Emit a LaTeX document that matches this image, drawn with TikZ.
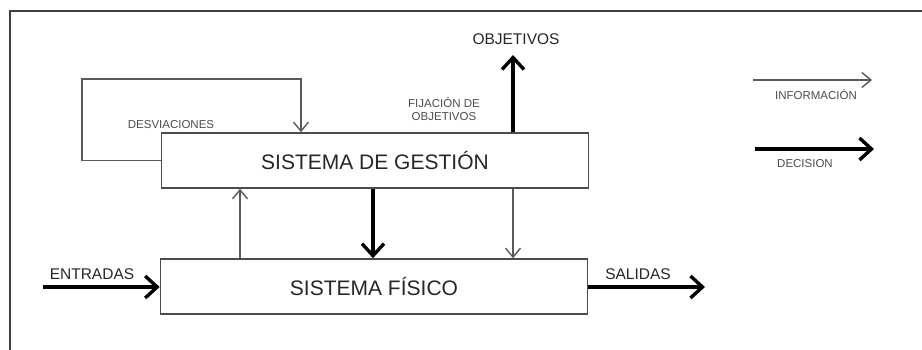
\documentclass[tikz,border=0pt]{standalone}
\usepackage{fontspec}
\setmainfont{Liberation Sans}
\usetikzlibrary{arrows.meta}

\begin{document}
\begin{tikzpicture}[x=1pt, y=-1pt,
  caja/.style={draw=black!70, line width=1.6pt, minimum width=427pt, minimum height=55pt,
    inner sep=0pt, font=\fontsize{21}{21}\selectfont, text=black!85},
  info/.style={draw=black!65, line width=1.4pt,
    -{Straight Barb[length=9pt, width=15pt, line width=1.4pt]}},
  decis/.style={draw=black, line width=3.4pt,
    -{Straight Barb[length=12pt, width=22pt, line width=3.4pt]}},
  etiq/.style={font=\fontsize{11.5}{13}\selectfont, text=black!70, inner sep=0pt},
  rot/.style={font=\fontsize{15.5}{15.5}\selectfont, text=black!85, inner sep=0pt},
]
\useasboundingbox (0,0) rectangle (922,350);
% marco
\draw[black!75, line width=1.5pt] (10,350) -- (10,11) -- (922,11);
% bloques
\node[caja] (gestion) at (375,160.5) {SISTEMA DE GESTIÓN};
\node[caja] (fisico) at (374,286.5) {SISTEMA FÍSICO};
% desviaciones
\draw[info] (gestion.west) -| (82,79) -| ([xshift=-74]gestion.north);
\node[etiq] (desv) at (171,125) {DESVIACIONES};
% entre bloques
\draw[info] (fisico.north -| 240,0) -- (gestion.south -| 240,0);
\draw[decis] (gestion.south -| 373,0) -- (fisico.north -| 373,0);
\draw[info] (gestion.south -| 513,0) -- (fisico.north -| 513,0);
% objetivos
\node[rot] (obj) at (516,39) {OBJETIVOS};
\coordinate (objtip) at (513,55);
\draw[decis] (gestion.north -| 513,0) -- (objtip);
\node[etiq, align=center] (fij) at (444,109) {FIJACIÓN DE\\OBJETIVOS};
% entradas y salidas
\coordinate (ent) at (43,287);
\coordinate (sal) at (705,287);
\draw[decis] (ent) -- (fisico.west |- ent);
\draw[decis] (fisico.east |- sal) -- (sal);
\node[rot] (entlab) at (92,274) {ENTRADAS};
\node[rot] (sallab) at (638,274) {SALIDAS};
% leyenda
\coordinate (infoA) at (753,80);
\coordinate (infoB) at (872,80);
\coordinate (decisA) at (755,149);
\coordinate (decisB) at (874,149);
\draw[info] (infoA) -- (infoB);
\draw[decis] (decisA) -- (decisB);
\node[etiq] (infolab) at (816,95) {INFORMACIÓN};
\node[etiq] (decislab) at (805,164) {DECISION};
\end{tikzpicture}
\end{document}
